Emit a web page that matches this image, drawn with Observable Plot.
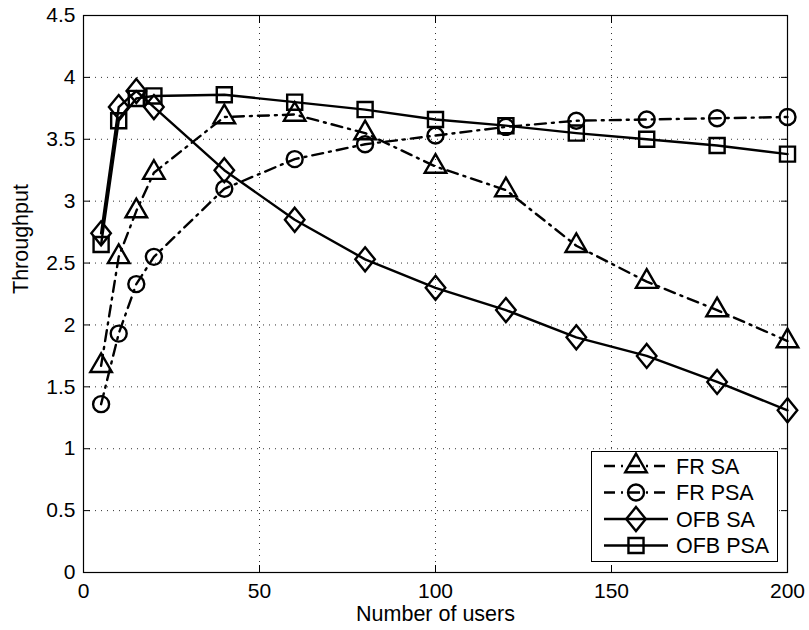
<!DOCTYPE html>
<html><head><meta charset="utf-8">
<script src="https://cdn.jsdelivr.net/npm/d3@7"></script>
<script src="https://cdn.jsdelivr.net/npm/@observablehq/plot@0.6"></script>
<style>
body{margin:0;background:#fff;}
#wrap{position:relative;width:809px;height:630px;font-family:"Liberation Sans",Arial,Helvetica,sans-serif;color:#000;}
#legend{position:absolute;left:591px;top:451px;width:187px;height:111px;border:1px solid #000;background:#fff;box-sizing:border-box;}
</style></head><body><div id="wrap"></div>
<script>
// ---- data ----
const users = [5, 10, 15, 20, 40, 60, 80, 100, 120, 140, 160, 180, 200];
const frSA   = [1.67, 2.55, 2.92, 3.23, 3.68, 3.70, 3.55, 3.28, 3.09, 2.64, 2.35, 2.12, 1.87];
const frPSA  = [1.36, 1.93, 2.33, 2.55, 3.10, 3.34, 3.46, 3.53, 3.60, 3.65, 3.66, 3.67, 3.68];
const ofbSA  = [2.74, 3.76, 3.89, 3.76, 3.25, 2.85, 2.53, 2.30, 2.12, 1.90, 1.75, 1.54, 1.31];
const ofbPSA = [2.65, 3.65, 3.83, 3.85, 3.86, 3.80, 3.74, 3.66, 3.61, 3.55, 3.50, 3.45, 3.38];
const seriesNames = ["FR SA", "FR PSA", "OFB SA", "OFB PSA"];
const xTicks = [0, 50, 100, 150, 200];
const yTicks = [0, 0.5, 1, 1.5, 2, 2.5, 3, 3.5, 4, 4.5];
const xLabel = "Number of users";
const yLabel = "Throughput";

// ---- styles ----
const diamond = {
  draw(ctx, size) {
    const r = Math.sqrt(size / Math.PI);
    const w = r * 1.22, h = r * 1.5;
    ctx.moveTo(0, -h); ctx.lineTo(w, 0); ctx.lineTo(0, h); ctx.lineTo(-w, 0); ctx.closePath();
  }
};
const dashDot = "11,6,2,6";
const LW = 2.4;
const series = [
  {name: seriesNames[0], values: frSA,   dash: dashDot, symbol: d3.symbolTriangle, r: 8},
  {name: seriesNames[1], values: frPSA,  dash: dashDot, symbol: d3.symbolCircle,   r: 8},
  {name: seriesNames[2], values: ofbSA,  dash: null,    symbol: diamond,           r: 8},
  {name: seriesNames[3], values: ofbPSA, dash: null,    symbol: d3.symbolSquare,   r: 8.5}
];
const rowsOf = s => users.map((u, i) => ({x: u, y: s.values[i]}));

const fmt = d => String(d);
const chart = Plot.plot({
  width: 809, height: 630,
  marginLeft: 83, marginRight: 22, marginTop: 15, marginBottom: 58,
  style: {fontFamily: '"Liberation Sans", Arial, sans-serif', color: "#000", background: "#fff"},
  x: {domain: [0, 200], label: null},
  y: {domain: [0, 4.5], label: null},
  marks: [
    Plot.gridX({ticks: xTicks, stroke: "#000", strokeOpacity: 0.8, strokeDasharray: "1,5"}),
    Plot.gridY({ticks: yTicks, stroke: "#000", strokeOpacity: 0.8, strokeDasharray: "1,5"}),
    ...series.map(s => Plot.line(rowsOf(s), {x: "x", y: "y", stroke: "#000", strokeWidth: LW, strokeDasharray: s.dash})),
    ...series.map(s => Plot.dot(rowsOf(s), {x: "x", y: "y", symbol: () => s.symbol, r: s.r, stroke: "#000", strokeWidth: LW, fill: "none"})),
    Plot.frame({stroke: "#000", strokeWidth: 1.2}),
    Plot.axisX({ticks: xTicks, tickSize: -7, tickPadding: 18, tickFormat: fmt, fontSize: 21, label: null}),
    Plot.axisY({ticks: yTicks, tickSize: -7, tickPadding: 15, tickFormat: fmt, fontSize: 21, label: null}),
    Plot.axisX({anchor: "top", ticks: xTicks, tickSize: -7, fill: "none", label: null}),
    Plot.axisY({anchor: "right", ticks: yTicks, tickSize: -7, fill: "none", label: null}),
    Plot.text([xLabel], {frameAnchor: "bottom", dy: 48, fontSize: 21.5, fill: "#000"}),
    Plot.text([yLabel], {frameAnchor: "left", dx: -62, rotate: -90, fontSize: 21.5, fill: "#000"})
  ]
});
const wrap = document.getElementById("wrap");
wrap.appendChild(chart);

// ---- legend ----
const leg = document.createElement("div");
leg.id = "legend";
wrap.appendChild(leg);
const lsvg = d3.select(leg).append("svg").attr("width", 185).attr("height", 109)
  .style("position", "absolute").style("left", "0px").style("top", "0px");
series.forEach((s, i) => {
  const cy = 14 + i * 26.5;
  const g = lsvg.append("g").attr("transform", `translate(0,${cy})`);
  g.append("line").attr("x1", 12).attr("x2", 76).attr("y1", 0).attr("y2", 0)
    .attr("stroke", "#000").attr("stroke-width", LW).attr("stroke-dasharray", s.dash);
  g.append("path").attr("d", d3.symbol(s.symbol, Math.PI * s.r * s.r)())
    .attr("transform", "translate(44,0)").attr("fill", "none").attr("stroke", "#000").attr("stroke-width", LW);
  g.append("text").attr("x", 84).attr("y", 0).attr("dy", "0.36em")
    .attr("font-size", 21.5).attr("font-family", '"Liberation Sans", Arial, sans-serif').text(s.name);
});
</script></body></html>
